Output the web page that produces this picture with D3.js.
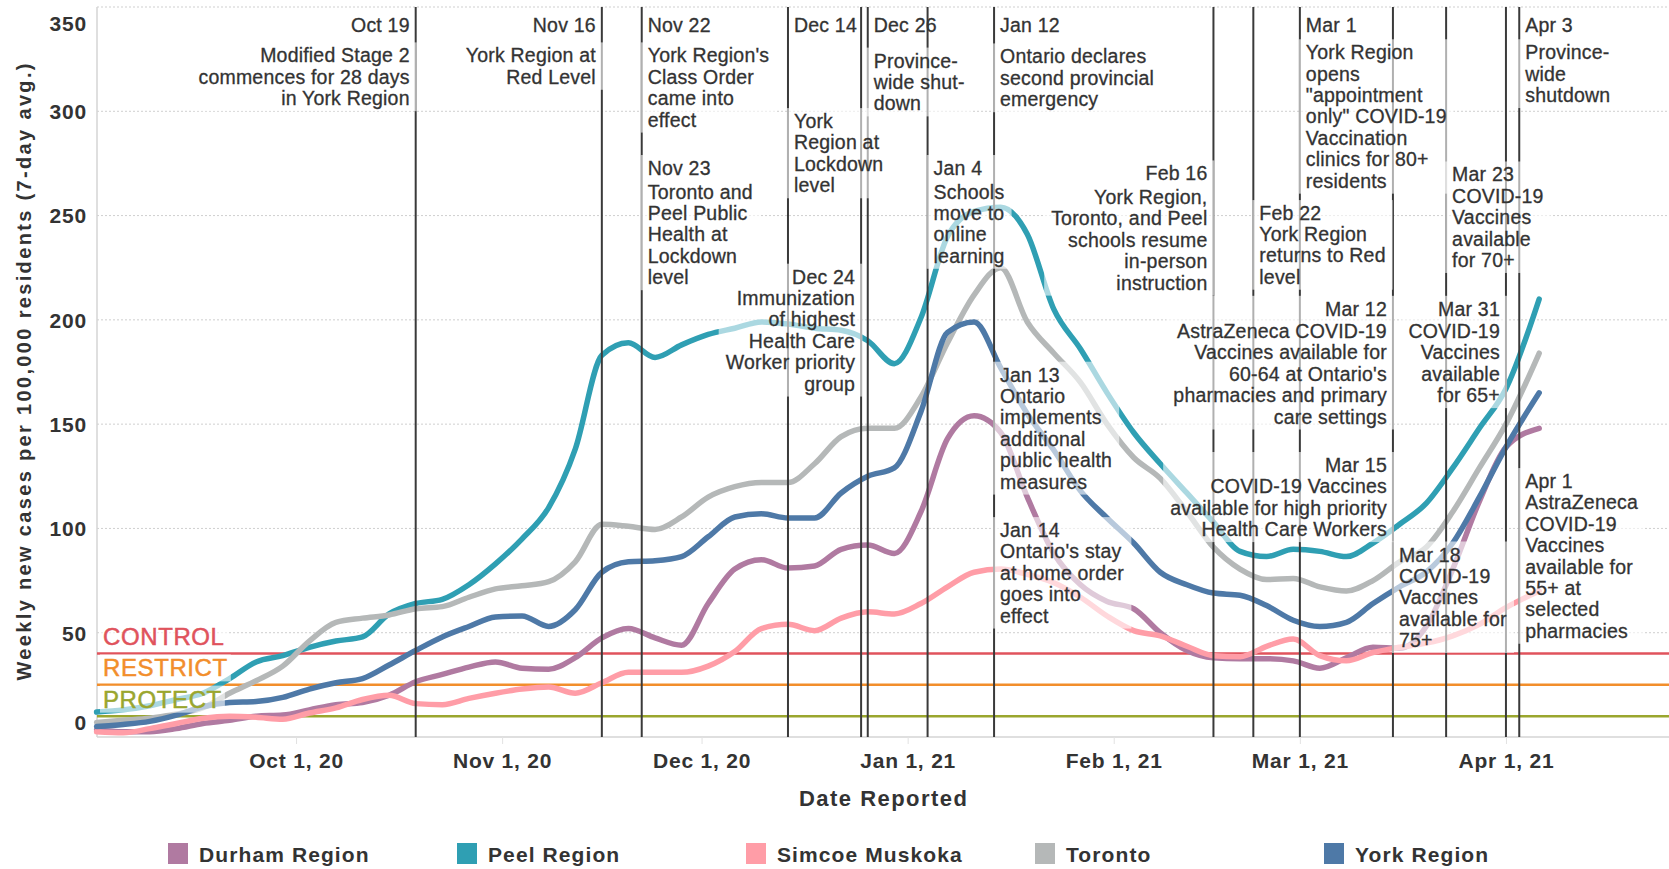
<!DOCTYPE html>
<html>
<head>
<meta charset="utf-8">
<script src="https://cdn.jsdelivr.net/npm/d3@7"></script>
<style>
  body { margin: 0; background: #fff; }
  svg { display: block; font-family: "Liberation Sans", Arial, sans-serif; }
</style>
</head>
<body>
<svg id="chart"></svg>
<script>
// dates, every 4 days
const dates = [
  "2020-09-01","2020-09-05","2020-09-09","2020-09-13","2020-09-17","2020-09-21","2020-09-25","2020-09-29",
  "2020-10-03","2020-10-07","2020-10-11","2020-10-15","2020-10-19","2020-10-23","2020-10-27","2020-10-31",
  "2020-11-04","2020-11-08","2020-11-12","2020-11-16","2020-11-20","2020-11-24","2020-11-28",
  "2020-12-02","2020-12-06","2020-12-10","2020-12-14","2020-12-18","2020-12-22","2020-12-26","2020-12-30",
  "2021-01-03","2021-01-07","2021-01-11","2021-01-15","2021-01-19","2021-01-23","2021-01-27","2021-01-31",
  "2021-02-04","2021-02-08","2021-02-12","2021-02-16","2021-02-20","2021-02-24","2021-02-28",
  "2021-03-04","2021-03-08","2021-03-12","2021-03-16","2021-03-20","2021-03-24","2021-03-28",
  "2021-04-01","2021-04-06"
];

const durham = [3.5,2.5,2.5,4,6.5,8,10,10.5, 13,15.5,16.5,20,26.5,30,33.5,36, 33,32.5,38,47.5,52,47.5,44,
  64,80.5,85,81,82,90,92,88, 108,143,154,146,115,88,73,65, 61.5,50,41.5,38,37.5,37.5,36.5,
  33,38,43,42.5,53,80.5,113, 139,148];
const peel = [12,13,15,18,21,28,36,39, 43,46,48,59,64,66,73,83, 95,110,138,183,189,182,188,
  193,196,199,198,196,195,190,179, 201,240,252,254,241,205,186,165, 146,131,117,103,89,86.5,90,
  89,86.5,93,102,112,129,148, 167,210];
const simcoe = [2.5,2,4,6.5,9,10,9.5,8.5, 11.5,14,18,20,16,15.5,18.5,21, 23,24,21,26,31,31,31,
  34,41,52,54,51,57,60,59, 64,72,79,80.5,78,74,67,58, 51,48.5,43.5,39,38.5,43.5,47,
  39,36.5,40.5,43,45,48.5,54, 62,70];
const toronto = [7,8,9,11,14,21,27,34, 46,55,57,58.5,61.5,62.5,67,71, 72.5,74.5,84,102,101,99.5,105.5,
  115,120,122,122,131,144,148,148, 163,189,212,225,199,184,170,150, 134,124,108,91,80.5,75.5,76,
  72,70,75,84,91,108,129, 150,184];
const york = [5,6,7.5,10.5,14.5,16.5,17,19, 23,26,28,34.5,41.5,48,53,57.5, 58,53,61,79,84,84.5,86.5,
  96,105.5,107,105,105,117,125,129, 156,194,199,177,155,137.5,118,105, 93,79,73,69,68,63,56,
  53,55,64,72,79,93,115, 139,165];

const seriesNames = ["Durham Region", "Peel Region", "Simcoe Muskoka", "Toronto", "York Region"];
const seriesColors = ["#b07aa1", "#2f9fb3", "#ff9da7", "#b5b8b8", "#4e79a7"];
const seriesValues = [durham, peel, simcoe, toronto, york];

const yTicks = [0, 50, 100, 150, 200, 250, 300, 350];
const xTickDates = ["2020-10-01","2020-11-01","2020-12-01","2021-01-01","2021-02-01","2021-03-01","2021-04-01"];
const xTickLabels = ["Oct 1, 20","Nov 1, 20","Dec 1, 20","Jan 1, 21","Feb 1, 21","Mar 1, 21","Apr 1, 21"];

const thresholdNames = ["CONTROL", "RESTRICT", "PROTECT"];
const thresholdValues = [40, 25, 10];
const thresholdColors = ["#e0535c", "#f28e2b", "#9aa62e"];

// dates of the vertical event rules
const ruleDates = ["2020-10-19","2020-11-16","2020-11-22","2020-12-14","2020-12-25","2020-12-26",
  "2021-01-04","2021-01-14","2021-02-16","2021-02-22","2021-03-01","2021-03-15","2021-03-23",
  "2021-04-01","2021-04-03"];

const notes = [
  { title: "Oct 19", lines: ["Modified Stage 2", "commences for 28 days", "in York Region"] },
  { title: "Nov 16", lines: ["York Region at", "Red Level"] },
  { title: "Nov 22", lines: ["York Region's", "Class Order", "came into", "effect"] },
  { title: "Nov 23", lines: ["Toronto and", "Peel Public", "Health at", "Lockdown", "level"] },
  { title: "Dec 14", lines: ["York", "Region at", "Lockdown", "level"] },
  { title: "Dec 24", lines: ["Immunization", "of highest", "Health Care", "Worker priority", "group"] },
  { title: "Dec 26", lines: ["Province-", "wide shut-", "down"] },
  { title: "Jan 4", lines: ["Schools", "move to", "online", "learning"] },
  { title: "Jan 12", lines: ["Ontario declares", "second provincial", "emergency"] },
  { title: "Jan 13", lines: ["Ontario", "implements", "additional", "public health", "measures"] },
  { title: "Jan 14", lines: ["Ontario's stay", "at home order", "goes into", "effect"] },
  { title: "Feb 16", lines: ["York Region,", "Toronto, and Peel", "schools resume", "in-person", "instruction"] },
  { title: "Feb 22", lines: ["York Region", "returns to Red", "level"] },
  { title: "Mar 1", lines: ["York Region", "opens", "\"appointment", "only\" COVID-19", "Vaccination", "clinics for 80+", "residents"] },
  { title: "Mar 12", lines: ["AstraZeneca COVID-19", "Vaccines available for", "60-64 at Ontario's", "pharmacies and primary", "care settings"] },
  { title: "Mar 15", lines: ["COVID-19 Vaccines", "available for high priority", "Health Care Workers"] },
  { title: "Mar 18", lines: ["COVID-19", "Vaccines", "available for", "75+"] },
  { title: "Mar 23", lines: ["COVID-19", "Vaccines", "available", "for 70+"] },
  { title: "Mar 31", lines: ["COVID-19", "Vaccines", "available", "for 65+"] },
  { title: "Apr 1", lines: ["AstraZeneca", "COVID-19", "Vaccines", "available for", "55+ at", "selected", "pharmacies"] },
  { title: "Apr 3", lines: ["Province-", "wide", "shutdown"] }
];

// where each note sits: rule it hugs, side of the rule, title / first body line (in chart units)
const noteLayout = [
  { rule: "2020-10-19", side: "end",   title: 341.6, body: 326.8, boxTitle: false },
  { rule: "2020-11-16", side: "end",   title: 341.6, body: 326.8, boxTitle: false },
  { rule: "2020-11-22", side: "start", title: 341.6, body: 326.8, boxTitle: false },
  { rule: "2020-11-22", side: "start", title: 272.8, body: 261.5, boxTitle: true },
  { rule: "2020-12-14", side: "start", title: 341.6, body: 295.3, boxTitle: false },
  { rule: "2020-12-25", side: "end",   title: 220.7, body: 210.5, boxTitle: true },
  { rule: "2020-12-26", side: "start", title: 341.6, body: 324.3, boxTitle: false },
  { rule: "2021-01-04", side: "start", title: 272.8, body: 261.5, boxTitle: true },
  { rule: "2021-01-14", side: "start", title: 341.6, body: 326.3, boxTitle: false },
  { rule: "2021-01-14", side: "start", title: 173.7, body: 163.5, boxTitle: true },
  { rule: "2021-01-14", side: "start", title: 99.2,  body: 89.0,  boxTitle: true },
  { rule: "2021-02-16", side: "end",   title: 270.2, body: 258.9, boxTitle: true },
  { rule: "2021-02-22", side: "start", title: 251.2, body: 241.2, boxTitle: true },
  { rule: "2021-03-01", side: "start", title: 341.6, body: 328.3, boxTitle: false },
  { rule: "2021-03-15", side: "end",   title: 205.3, body: 194.7, boxTitle: true },
  { rule: "2021-03-15", side: "end",   title: 130.4, body: 120.2, boxTitle: true },
  { rule: "2021-03-15", side: "start", title: 87.5,  body: 77.3,  boxTitle: true },
  { rule: "2021-03-23", side: "start", title: 269.7, body: 259.5, boxTitle: true },
  { rule: "2021-04-01", side: "end",   title: 205.3, body: 194.7, boxTitle: true },
  { rule: "2021-04-03", side: "start", title: 122.7, body: 112.5, boxTitle: true },
  { rule: "2021-04-03", side: "start", title: 341.6, body: 328.3, boxTitle: false }
];

const width = 1669, height = 869;
const plot = { left: 97, right: 1669, top: 7, bottom: 737 };
const textColor = "#333";

const parseDate = d3.timeParse("%Y-%m-%d");

const svg = d3.select("#chart").attr("width", width).attr("height", height);

const x = d3.scaleTime()
  .domain([parseDate("2020-09-01"), parseDate("2021-04-25")])
  .range([96.6, 1665.5]);
const y = d3.scaleLinear().domain([0, 350]).range([plot.bottom, plot.top]);

// gridlines
svg.append("g").selectAll("line").data(yTicks.filter(v => v > 0)).join("line")
  .attr("x1", plot.left).attr("x2", plot.right)
  .attr("y1", d => y(d)).attr("y2", d => y(d))
  .attr("stroke", "#cfcfcf").attr("stroke-width", 1).attr("stroke-dasharray", "2,2");

// plot frame: left and bottom
svg.append("line").attr("x1", plot.left).attr("x2", plot.left).attr("y1", plot.top).attr("y2", plot.bottom)
  .attr("stroke", "#d4d4d4").attr("stroke-width", 1.5);
svg.append("line").attr("x1", plot.left).attr("x2", plot.right).attr("y1", plot.bottom).attr("y2", plot.bottom)
  .attr("stroke", "#d4d4d4").attr("stroke-width", 1.5);

// y axis
const yAxis = svg.append("g").attr("transform", `translate(${plot.left},0)`)
  .call(d3.axisLeft(y).tickValues(yTicks).tickSize(0).tickPadding(10));
yAxis.select(".domain").remove();
yAxis.selectAll("text")
  .attr("fill", textColor).attr("font-size", 21).attr("font-weight", "bold")
  .attr("font-family", "Liberation Sans, Arial, sans-serif").style("letter-spacing", "0.8px")
  .attr("dy", d => d === 350 ? "1.1em" : d === 0 ? "-0.35em" : "0.35em");

// x axis
const xAxis = svg.append("g").attr("transform", `translate(0,${plot.bottom})`)
  .call(d3.axisBottom(x).tickValues(xTickDates.map(parseDate)).tickFormat((d, i) => xTickLabels[i]).tickSize(7));
xAxis.select(".domain").remove();
xAxis.selectAll(".tick line").attr("stroke", "#e2e2e2");
xAxis.selectAll("text")
  .attr("fill", textColor).attr("font-size", 21).attr("font-weight", "bold")
  .attr("font-family", "Liberation Sans, Arial, sans-serif").style("letter-spacing", "0.8px")
  .attr("y", 24).attr("dy", "0.35em");

// axis titles
svg.append("text")
  .attr("transform", `translate(24,${(plot.top + plot.bottom) / 2}) rotate(-90)`)
  .attr("text-anchor", "middle").attr("dominant-baseline", "central")
  .attr("font-size", 20).attr("font-weight", "bold").attr("fill", textColor)
  .attr("textLength", 617).attr("lengthAdjust", "spacing")
  .text("Weekly new cases per 100,000 residents (7-day avg.)");
svg.append("text")
  .attr("x", (plot.left + plot.right) / 2).attr("y", 798)
  .attr("text-anchor", "middle").attr("dominant-baseline", "central")
  .attr("font-size", 22).attr("font-weight", "bold").attr("fill", textColor)
  .attr("textLength", 168).attr("lengthAdjust", "spacing")
  .text("Date Reported");

// threshold lines
svg.append("g").selectAll("line").data(thresholdValues).join("line")
  .attr("x1", plot.left).attr("x2", plot.right)
  .attr("y1", d => y(d)).attr("y2", d => y(d))
  .attr("stroke", (d, i) => thresholdColors[i]).attr("stroke-width", 2.5);

// series
const parsedDates = dates.map(parseDate);
const line = d3.line()
  .x((d, i) => x(parsedDates[i]))
  .y(d => y(d))
  .curve(d3.curveMonotoneX);

svg.append("g").selectAll("path").data(seriesValues).join("path")
  .attr("d", d => line(d))
  .attr("fill", "none")
  .attr("stroke", (d, i) => seriesColors[i])
  .attr("stroke-width", 5.5)
  .attr("stroke-linejoin", "round").attr("stroke-linecap", "round");

// event rules
svg.append("g").selectAll("line").data(ruleDates).join("line")
  .attr("x1", d => x(parseDate(d))).attr("x2", d => x(parseDate(d)))
  .attr("y1", plot.top).attr("y2", plot.bottom)
  .attr("stroke", "#3a3a3a").attr("stroke-width", 2);

// labels sit on translucent white boxes, which wash out whatever is behind
function addBox(g, padX, padY) {
  const bb = g.node().getBBox();
  g.insert("rect", ":first-child")
    .attr("x", bb.x - padX).attr("y", bb.y - padY)
    .attr("width", bb.width + 2 * padX).attr("height", bb.height + 2 * padY)
    .attr("fill", "#fff").attr("fill-opacity", 0.6);
}

// threshold labels
thresholdNames.forEach((name, i) => {
  const g = svg.append("g");
  g.append("text")
    .attr("x", 103).attr("y", y(thresholdValues[i]) - 17)
    .attr("dominant-baseline", "central")
    .attr("font-size", 24).attr("fill", thresholdColors[i])
    .attr("stroke", thresholdColors[i]).attr("stroke-width", 0.5)
    .style("letter-spacing", "0.6px")
    .text(name);
  addBox(g, 3, 0);
});

// notes
const lineH = 21.4;
notes.forEach((n, i) => {
  const L = noteLayout[i];
  const tx = x(parseDate(L.rule)) + (L.side === "start" ? 6 : -6);
  const g = svg.append("g")
    .attr("font-size", 19.5).attr("fill", textColor)
    .attr("stroke", textColor).attr("stroke-width", 0.3)
    .style("letter-spacing", "0.2px");
  const body = g.append("g");
  n.lines.forEach((t, j) => {
    body.append("text")
      .attr("x", tx).attr("y", y(L.body) + j * lineH)
      .attr("text-anchor", L.side).attr("dominant-baseline", "central")
      .text(t);
  });
  (L.boxTitle ? body : g).append("text")
    .attr("x", tx).attr("y", y(L.title))
    .attr("text-anchor", L.side).attr("dominant-baseline", "central")
    .text(n.title);
  addBox(body, 7, 2);
  body.select("rect").attr("stroke", "none");
});

// legend
const legend = svg.append("g").selectAll("g").data(seriesNames).join("g")
  .attr("transform", (d, i) => `translate(${168 + i * 289},843)`);
legend.append("rect").attr("width", 20).attr("height", 21)
  .attr("fill", (d, i) => seriesColors[i]);
legend.append("text")
  .attr("x", 31).attr("y", 11).attr("dominant-baseline", "central")
  .attr("font-size", 21).attr("font-weight", "bold").attr("fill", textColor)
  .style("letter-spacing", "1.1px")
  .text(d => d);
</script>
</body>
</html>
